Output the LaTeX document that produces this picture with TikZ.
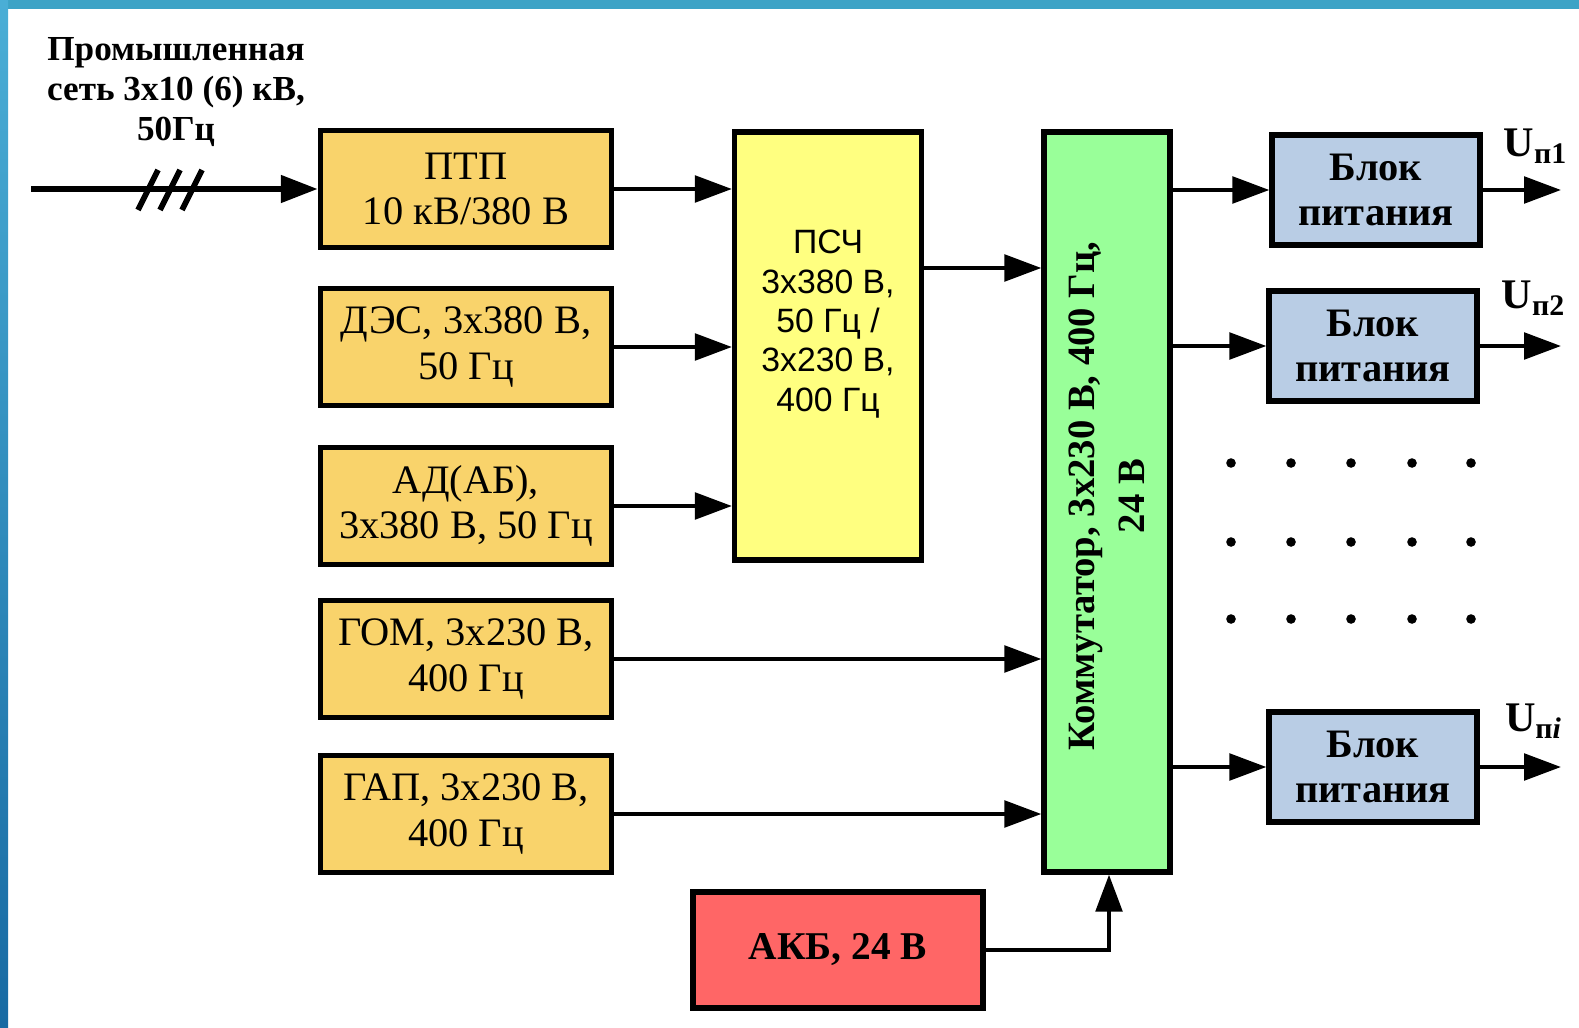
\documentclass[tikz,border=0pt]{standalone}
\usepackage{fontspec}
\setmainfont{Liberation Serif}
\setsansfont{Liberation Sans}
\usetikzlibrary{arrows.meta,positioning,calc}

\definecolor{srcfill}{HTML}{F9D36B}
\definecolor{pschfill}{HTML}{FFFF80}
\definecolor{kommfill}{HTML}{99FF99}
\definecolor{blkfill}{HTML}{B9CDE5}
\definecolor{akbfill}{HTML}{FF6666}
\definecolor{frametop}{HTML}{3DA3C6}
\definecolor{leftA}{HTML}{4AAED6}
\definecolor{leftB}{HTML}{176AA3}

\begin{document}
\begin{tikzpicture}[>={Triangle[length=10.5pt,width=7.5pt]},
  src/.style={rectangle,draw,line width=1.5pt,fill=srcfill,inner sep=0pt,minimum width=2.91cm,minimum height=1.17cm,align=center,font=\fontsize{11.5}{13}\selectfont},
  pschbox/.style={rectangle,draw,line width=1.5pt,fill=pschfill,inner sep=0pt,minimum width=1.87cm,minimum height=4.28cm},
  kommbox/.style={rectangle,draw,line width=1.5pt,fill=kommfill,inner sep=0pt,minimum width=1.26cm,minimum height=7.40cm},
  blk/.style={rectangle,draw,line width=1.5pt,fill=blkfill,inner sep=0pt,minimum width=2.08cm,minimum height=1.10cm,align=center,font=\bfseries\fontsize{11.5}{13}\selectfont},
  akbbox/.style={rectangle,draw,line width=1.5pt,fill=akbfill,inner sep=0pt,minimum width=2.90cm,minimum height=1.16cm,font=\bfseries\fontsize{11.2}{13}\selectfont},
  ulbl/.style={font=\bfseries\fontsize{12}{14}\selectfont},
  conn/.style={->,line width=1.2pt}]
  \useasboundingbox (0,0) rectangle (15.79,-10.28);
  %--- slide frame ---
  \fill[frametop] (0,0) rectangle (15.79,-0.09);
  \shade[top color=leftA,bottom color=leftB] (0,0) rectangle (0.08,-10.28);
  %--- sources ---
  \node[font=\bfseries\fontsize{10}{11.4}\selectfont,align=center] (netlbl) at (1.76,-0.92) {Промышленная\\сеть 3x10 (6) кВ,\\50Гц};
  \node[src] (ptp) at (4.66,-1.89) {ПТП\\10 кВ/380 В};
  \node[src] (des) at (4.66,-3.47) {ДЭС, 3x380 В,\\50 Гц};
  \node[src] (ad)  at (4.66,-5.06) {АД(АБ),\\3x380 В, 50 Гц};
  \node[src] (gom) at (4.66,-6.59) {ГОМ, 3x230 В,\\400 Гц};
  \node[src] (gap) at (4.66,-8.14) {ГАП, 3x230 В,\\400 Гц};
  \node[akbbox] (akb) at (8.38,-9.50) {АКБ, 24 В};
  %--- converter and switch ---
  \node[pschbox] (psch) at (8.28,-3.46) {};
  \node[font=\sffamily\fontsize{9.6}{11.2}\selectfont,align=center] (pschtxt) at ([yshift=2.2mm]psch.center) {ПСЧ\\3x380 В,\\50 Гц /\\3x230 В,\\400 Гц};
  \node[kommbox] (komm) at (11.07,-5.02) {};
  \node[rotate=90,font=\bfseries\fontsize{11}{14.3}\selectfont,align=center] (kommtxt) at ([yshift=0.6mm]komm.center) {Коммутатор, 3x230 В, 400 Гц,\\24 В};
  %--- power units ---
  \node[blk] (blk1) at (13.76,-1.90) {Блок\\питания};
  \node[blk] (blk2) at (13.73,-3.46) {Блок\\питания};
  \node[blk] (blki) at (13.73,-7.67) {Блок\\питания};
  \coordinate (u1) at (15.61,-1.90);
  \coordinate (u2) at (15.61,-3.46);
  \coordinate (ui) at (15.61,-7.67);
  \node[ulbl] (u1lbl) at (15.35,-1.46) {U\raisebox{-0.35ex}{\fontsize{8.5}{10}\selectfont п1}};
  \node[ulbl] (u2lbl) at (15.33,-2.98) {U\raisebox{-0.35ex}{\fontsize{8.5}{10}\selectfont п2}};
  \node[ulbl] (uilbl) at (15.33,-7.21) {U\raisebox{-0.35ex}{\fontsize{8.5}{10}\selectfont п\textit{i}}};
  \foreach \x in {12.31,12.91,13.51,14.12,14.71}
    \foreach \y in {4.63,5.42,6.19}
      \fill (\x,-\y) circle (0.048);
  %--- connections ---
  \coordinate (in) at (0.31,-1.89);
  \draw[->,line width=1.8pt] (in) -- (ptp.west);
  \foreach \s in {1.48,1.70,1.92}
    \draw[line width=1.6pt] (\s-0.10,-2.10) -- (\s+0.10,-1.70);
  \foreach \s in {ptp,des,ad}
    \draw[conn] (\s.east) -- (\s.east -| psch.west);
  \draw[conn] ([yshift=7.8mm]psch.east) -- ([yshift=7.8mm]psch.east -| komm.west);
  \foreach \s in {gom,gap}
    \draw[conn] (\s.east) -- (\s.east -| komm.west);
  \draw[conn] (akb.east) -| ([xshift=0.2mm]komm.south);
  \foreach \b in {blk1,blk2,blki}
    \draw[conn] (\b.west -| komm.east) -- (\b.west);
  \draw[conn] (blk1.east) -- (u1);
  \draw[conn] (blk2.east) -- (u2);
  \draw[conn] (blki.east) -- (ui);
\end{tikzpicture}
\end{document}
